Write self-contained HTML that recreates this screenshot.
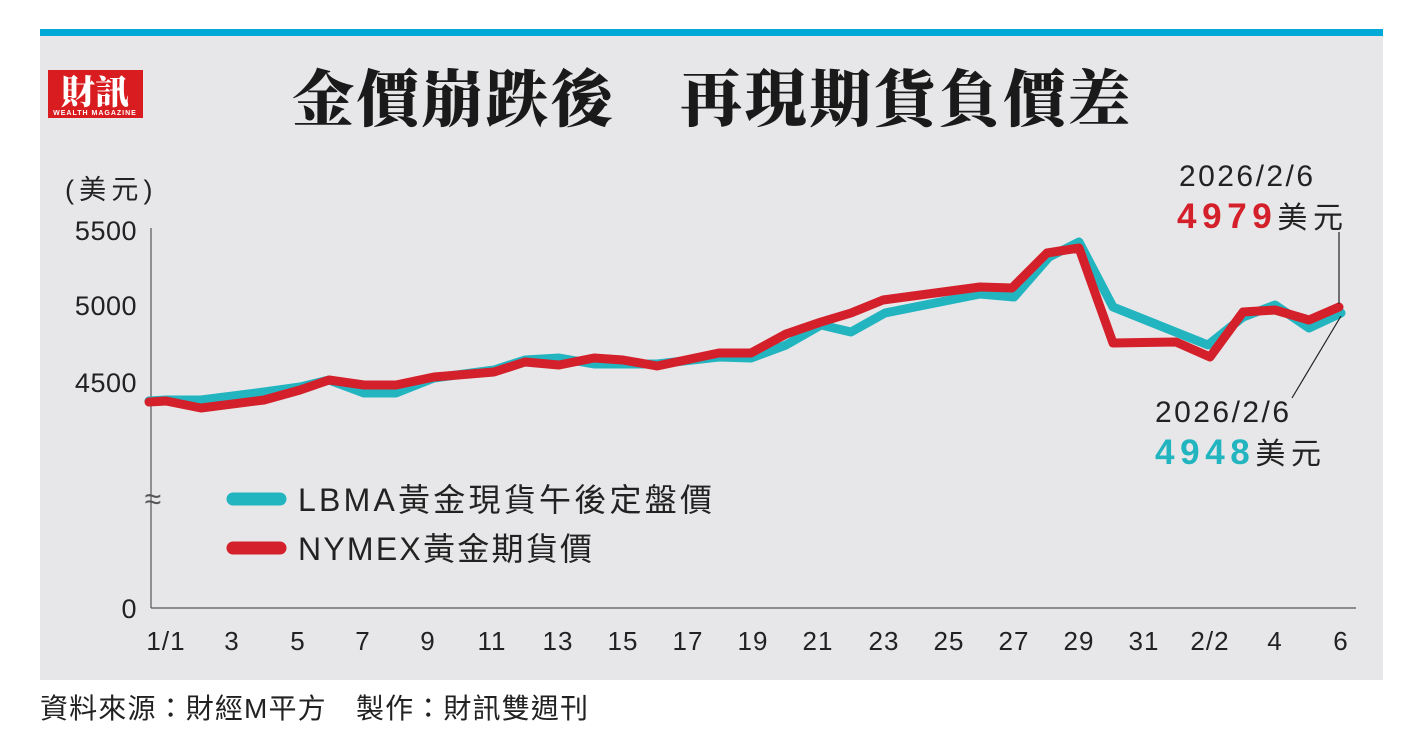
<!DOCTYPE html>
<html><head><meta charset="utf-8"><style>
body{margin:0;width:1423px;height:746px;background:#fff;overflow:hidden;font-family:"Liberation Sans","Noto Sans CJK TC",sans-serif}
</style></head><body>
<svg width="1423" height="746" xmlns="http://www.w3.org/2000/svg" style="position:absolute;left:0;top:0">
<rect x="40" y="29" width="1343" height="7" fill="#00a9d6"/>
<rect x="40" y="36" width="1343" height="644" fill="#e7e7e9"/>
<rect x="48" y="70" width="95" height="48" fill="#d91c1f"/>
<text x="95" y="104" text-anchor="middle" font-family="Noto Serif CJK SC,serif" font-weight="900" font-size="34" fill="#fff">財訊</text>
<text x="95" y="115" text-anchor="middle" font-size="7" font-weight="bold" fill="#fff" letter-spacing="1">WEALTH MAGAZINE</text>
<text x="292" y="121" textLength="838" lengthAdjust="spacing" font-family="Noto Serif CJK SC,serif" font-weight="900" font-size="62" fill="#1a1a1a">金價崩跌後　再現期貨負價差</text>
<g font-size="27" fill="#222" letter-spacing="0.5">
<text x="65" y="199" textLength="88">(美元)</text>
<text x="137" y="240" text-anchor="end">5500</text>
<text x="137" y="315" text-anchor="end">5000</text>
<text x="137" y="392" text-anchor="end">4500</text>
<text x="137" y="618" text-anchor="end">0</text>
</g>
<line x1="151" y1="228" x2="151" y2="608" stroke="#555" stroke-width="1.2"/>
<line x1="151" y1="608" x2="1356" y2="608" stroke="#555" stroke-width="1.2"/>
<text x="153" y="509" text-anchor="middle" font-size="30" fill="#555">≈</text>
<g font-size="26" fill="#222" text-anchor="middle" letter-spacing="1">
<text x="166" y="650">1/1</text><text x="232" y="650">3</text><text x="298" y="650">5</text><text x="363" y="650">7</text><text x="428" y="650">9</text><text x="492" y="650">11</text><text x="558" y="650">13</text><text x="623" y="650">15</text><text x="688" y="650">17</text><text x="753" y="650">19</text><text x="818" y="650">21</text><text x="884" y="650">23</text><text x="949" y="650">25</text><text x="1014" y="650">27</text><text x="1079" y="650">29</text><text x="1144" y="650">31</text><text x="1210" y="650">2/2</text><text x="1275" y="650">4</text><text x="1341" y="650">6</text>
</g>
<polyline fill="none" stroke="#22b5c0" stroke-width="9" stroke-linejoin="round" stroke-linecap="round" points="149,401 166,400 201,400 264,392 300,387 329,380 364,393 396,393 434,378 494,370 525,360 559,358 594,364 623,364 657,364 719,357 751,358 786,345 821,325 851,332 885,313 980,294 1014,297 1049,257 1079,242 1113,307 1208,345 1243,317 1275,305 1309,328 1341,313"/>
<polyline fill="none" stroke="#d4202a" stroke-width="9" stroke-linejoin="round" stroke-linecap="round" points="149,402 166,401 201,408 264,400 300,390 329,380 364,385 396,385 434,377 494,372 525,362 559,365 594,358 623,360 657,366 719,353 751,353 786,334 821,322 851,313 883,300 980,287 1012,288 1047,253 1079,248 1113,343 1176,342 1210,357 1243,312 1275,310 1309,320 1339,307"/>
<line x1="1339" y1="232" x2="1339" y2="304" stroke="#222" stroke-width="1.2"/>
<line x1="1341" y1="316" x2="1292" y2="398" stroke="#222" stroke-width="1.2"/>
<g font-size="30" fill="#222">
<text x="1179" y="186" textLength="134" lengthAdjust="spacing">2026/2/6</text>
<text x="1177" y="228" textLength="166" lengthAdjust="spacing"><tspan fill="#d4202a" font-weight="bold" font-size="35">4979</tspan>美元</text>
<text x="1155" y="422" textLength="134" lengthAdjust="spacing">2026/2/6</text>
<text x="1155" y="464" textLength="166" lengthAdjust="spacing"><tspan fill="#22b5c0" font-weight="bold" font-size="35">4948</tspan>美元</text>
</g>
<line x1="233" y1="499" x2="280" y2="499" stroke="#22b5c0" stroke-width="13" stroke-linecap="round"/>
<line x1="233" y1="548" x2="280" y2="548" stroke="#d4202a" stroke-width="13" stroke-linecap="round"/>
<g font-size="32" fill="#222">
<text x="298" y="511" textLength="414" lengthAdjust="spacing">LBMA黃金現貨午後定盤價</text>
<text x="298" y="560" textLength="294" lengthAdjust="spacing">NYMEX黃金期貨價</text>
</g>
<text x="40" y="718" font-size="28" fill="#222" textLength="548" lengthAdjust="spacing">資料來源：財經M平方　製作：財訊雙週刊</text>
</svg>
</body></html>
